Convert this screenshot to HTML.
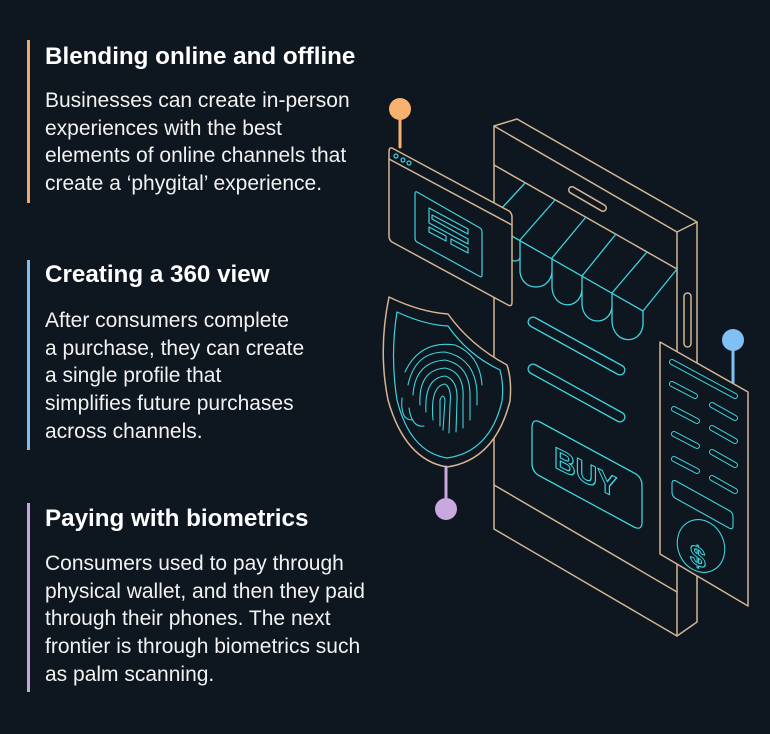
<!DOCTYPE html>
<html><head><meta charset="utf-8"><style>
body{margin:0;background:#0e161f;width:770px;height:734px;overflow:hidden;position:relative;font-family:"Liberation Sans",sans-serif;color:#fff}
.bar{position:absolute;left:27px;width:3px}
.t{position:absolute;left:45px;font-weight:bold;font-size:24.2px;white-space:nowrap}
.p{position:absolute;left:45px;font-size:21px;line-height:27.7px;white-space:nowrap;color:#f2f2f2}
svg{position:absolute;left:0;top:0}
</style></head><body>
<div class="bar" style="top:40px;height:163px;background:#f0a868"></div>
<div class="bar" style="top:260px;height:190px;background:#7fbdf0"></div>
<div class="bar" style="top:503px;height:189px;background:#c4a6dc"></div>
<div class="t" style="top:43px">Blending online and offline</div>
<div class="p" style="top:87px">Businesses can create in-person<br>experiences with the best<br>elements of online channels that<br>create a ‘phygital’ experience.</div>
<div class="t" style="top:261px">Creating a 360 view</div>
<div class="p" style="top:307px">After consumers complete<br>a purchase, they can create<br>a single profile that<br>simplifies future purchases<br>across channels.</div>
<div class="t" style="top:505px">Paying with biometrics</div>
<div class="p" style="top:550px">Consumers used to pay through<br>physical wallet, and then they paid<br>through their phones. The next<br>frontier is through biometrics such<br>as palm scanning.</div>

<svg width="770" height="734" viewBox="0 0 770 734" fill="none" stroke-linejoin="round" stroke-linecap="round">
<g stroke="#d3b594" stroke-width="1.5">
<path d="M494,126 L517,119 L697,222 L697,622 L677,636 L494,529 Z" fill="#0e161f"/>
<path d="M494,126 L677,232 L697,222 M677,232 L677,636"/>
<path d="M494,165 L677,269 M494,485 L677,592"/>
<rect x="684" y="293" width="7" height="54" rx="3.5"/>
<path d="M572,190 L603,208" stroke-width="8"/>
<path d="M572,190 L603,208" stroke="#0e161f" stroke-width="5"/>
</g>
<g stroke="#3fd3dc" stroke-width="1.3">
<path d="M525,183 L502,208 M555,200 L520,240 M586,217 L552,258 M616,234 L582,276 M647,252 L612,293 M677,269 L643,311"/>
<path d="M510,235 L643,311"/>
<path d="M520,240 L520,272 C522,292 550,292 552,272 L552,258 M552,258 L552,288 C554,310 580,310 582,290 L582,276 M582,276 L582,305 C584,326 610,326 612,307 L612,293 M612,293 L612,322 C614,345 641,345 643,325 L643,311 M510,235 L510,258 C512,262 518,262 520,258"/>
<path d="M533,322 L620,370" stroke-width="11"/><path d="M533,322 L620,370" stroke="#0e161f" stroke-width="8.4"/>
<path d="M533,369 L620,417" stroke-width="11"/><path d="M533,369 L620,417" stroke="#0e161f" stroke-width="8.4"/>
<path d="M540,422 L636,474 Q642,478 642,486 L642,522 Q642,531 634,527 L538,475 Q532,471 532,463 L532,428 Q532,418 540,422 Z"/>
</g>
<text x="554" y="468" transform="matrix(1,0.5,0,1,0,-278)" font-family="Liberation Sans,sans-serif" font-size="30" font-weight="bold" fill="none" stroke="#3fd3dc" stroke-width="1.2">BUY</text>
<g stroke="#d3b594" stroke-width="1.5">
<path d="M392,148 L509,211 Q512,213 512,217 L512,302 Q512,307 508,305 L392,242 Q389,240 389,236 L389,152 Q389,147 392,148 Z" fill="#0e161f"/>
<path d="M389,159 L512,225"/>
<line x1="400" y1="109" x2="400" y2="147" stroke="#f8b26f" stroke-width="3"/>
</g>
<circle cx="400" cy="109" r="11" fill="#f8b26f"/>
<g stroke="#3fd3dc" stroke-width="1.2">
<circle cx="396" cy="156" r="2"/><circle cx="403" cy="160" r="2"/><circle cx="409" cy="163" r="2"/>
<path d="M417,192 L480,228 Q482,229 482,232 L482,275 Q482,278 479,276 L417,242 Q415,241 415,238 L415,194 Q415,191 417,192 Z"/>
<path d="M429,208 L468,229 L468,234 L432,215 L432,219 L468,239 L468,244 L429,223 Z M429,227 L446,236 L446,241 L429,232 Z M451,239 L468,248 L468,253 L451,244 Z"/>
</g>
<path d="M389,297 Q420,312 448,314 Q470,345 507,365 Q512,380 510,401 Q495,460 447,467 Q405,460 388,400 Q378,350 389,297 Z" fill="#0e161f" stroke="#d3b594" stroke-width="1.5"/>
<path d="M397,312 Q425,325 448,326 Q468,355 500,370 Q504,385 502,401 Q490,452 447,458 Q410,452 397,400 Q390,355 397,312 Z" stroke="#3fd3dc" stroke-width="1.2"/>
<g stroke="#3fd3dc" stroke-width="1.1">
<path d="M405,372 Q420,340 455,345 Q480,355 482,385"/>
<path d="M408,385 Q415,352 445,352 Q475,358 477,392 L477,405"/>
<path d="M413,395 Q415,362 445,360 Q470,365 470,395 L470,420"/>
<path d="M420,405 Q418,370 445,368 Q465,372 463,400 L463,428"/>
<path d="M426,412 Q424,378 445,376 Q458,380 457,400 L456,432"/>
<path d="M433,420 Q430,386 445,384 Q452,388 450,405 L449,433"/>
<path d="M440,426 L440,400 Q443,392 445,400 L443,430"/>
<path d="M402,398 Q400,420 412,420 M409,408 Q412,428 424,426"/>
</g>
<line x1="446" y1="467" x2="446" y2="500" stroke="#c9a8e0" stroke-width="3"/>
<circle cx="446" cy="509" r="11" fill="#c9a8e0"/>
<line x1="733" y1="340" x2="733" y2="386" stroke="#7fc0f5" stroke-width="3"/>
<circle cx="733" cy="340" r="11" fill="#7fc0f5"/>
<path d="M660,342 L748,392 L748,606 L660,554 Z" fill="#0e161f" stroke="#d3b594" stroke-width="1.5"/>
<g stroke="#3fd3dc" stroke-width="1.1">
<g stroke-width="6"><path d="M672,362 L735,396 M672,384 L695,396 M674,409 L697,421 M674,434 L697,446 M674,459 L697,471 M712,405 L735,418 M712,428 L735,441 M712,452 L735,465 M712,478 L735,491"/></g>
<g stroke="#0e161f" stroke-width="4"><path d="M672,362 L735,396 M672,384 L695,396 M674,409 L697,421 M674,434 L697,446 M674,459 L697,471 M712,405 L735,418 M712,428 L735,441 M712,452 L735,465 M712,478 L735,491"/></g>
<path d="M676,481 L730,511 Q733,513 733,517 L733,526 Q733,530 729,528 L675,498 Q672,496 672,492 L672,484 Q672,479 676,481 Z"/>
<ellipse cx="701" cy="546" rx="23" ry="27" transform="rotate(-25 701 546)"/>
</g>
<text x="690" y="563" transform="matrix(1,0.5,0,1,0,-346)" font-family="Liberation Sans,sans-serif" font-size="28" font-weight="bold" fill="none" stroke="#3fd3dc" stroke-width="1.1">$</text>
</svg>
</body></html>
